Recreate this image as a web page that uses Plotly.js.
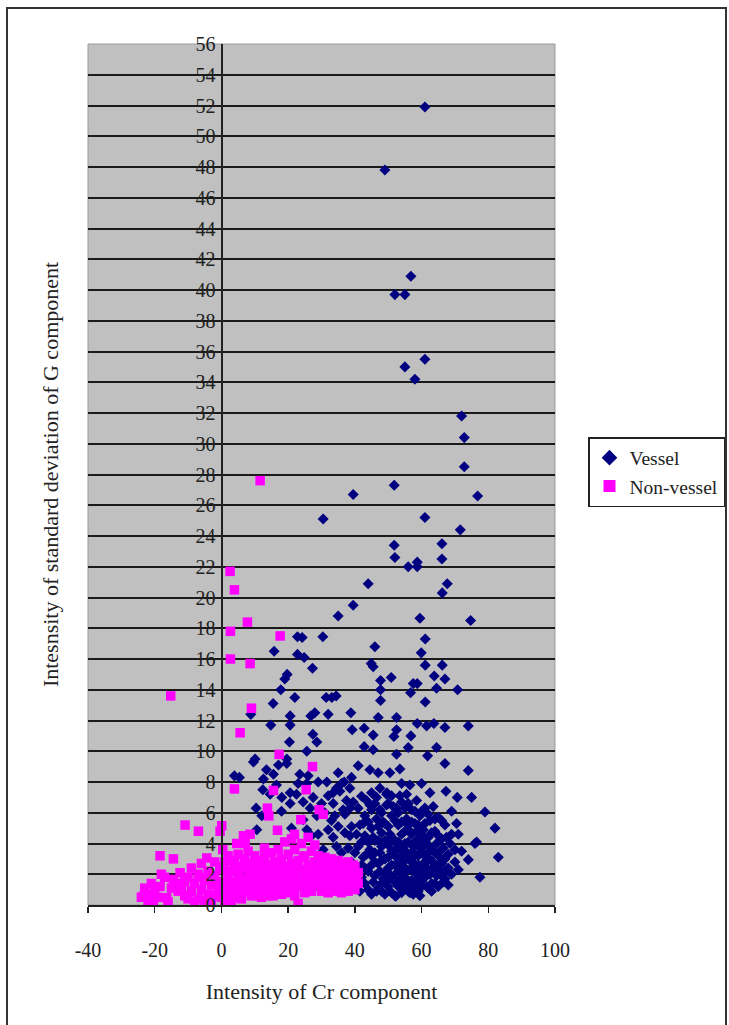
<!DOCTYPE html>
<html>
<head>
<meta charset="utf-8">
<script src="https://cdn.plot.ly/plotly-3.0.1.min.js"></script>
<style>
  html, body { margin: 0; padding: 0; background: #ffffff; }
  #chart { width: 729px; height: 1025px; }
  #frame { position: absolute; left: 6px; top: 7px; width: 721px; height: 1030px;
           border: 2px solid #333333; pointer-events: none; box-sizing: border-box; }
</style>
</head>
<body>
<div id="chart"></div>
<div id="frame"></div>
<script>
// Series: Vessel (x = intensity of Cr, y = std. dev. of G)
const vesselPoints = [
  [61,51.9],[49,47.8],[56.8,40.9],[52,39.7],[55,39.7],[61,35.5],[55,35],[58,34.2],
  [72,31.8],[72.8,30.4],[72.8,28.5],[76.8,26.6],[39.5,26.7],[51.8,27.3],[30.5,25.1],
  [61,25.2],[71.6,24.4],[66.1,23.5],[66.1,22.5],[51.8,23.4],[52,22.6],[58.7,22.3],
  [56,22],[58.7,22],[44,20.9],[67.7,20.9],[66.2,20.3],[39.5,19.5],[35,18.8],
  [59.5,18.65],[74.7,18.5],[30.4,17.45],[22.8,17.45],[24.2,17.4],[61.1,17.3],[46,16.8],
  [15.8,16.5],[22.8,16.3],[24.8,16.1],[59.9,16.4],[44.9,15.7],[45.5,15.5],[61.1,15.6],
  [66.2,15.6],[27.3,15.4],[19.7,15],[19,14.7],[47.7,14.6],[50.9,14.8],[63.8,14.9],
  [67,14.7],[57.5,14.4],[58.7,14.4],[17.8,14],[47.7,14],[56.7,13.8],[64.5,14.1],
  [70.8,14],[22,13.5],[31.4,13.5],[33.1,13.5],[34.4,13.6],[47.7,13.3],[61.1,13.2],
  [15.5,13.1],[8.8,12.4],[20.6,12.3],[26.8,12.3],[28,12.5],[32,12.4],[38.8,12.5],
  [47,12.2],[52.5,12.2],[14.8,11.7],[20.6,11.7],[58.7,11.8],[61.5,11.65],[63.7,11.8],
  [67,11.55],[74,11.65],[39.2,11.4],[42.8,11.5],[45.5,11.05],[52.5,11.4],[51.7,10.96],
  [56.8,11],[27.4,11.1],[28.6,10.6],[20.4,10.6],[42.8,10.3],[45.5,10.1],[56,10.25],
  [64.5,10.25],[25.6,10],[10.1,9.5],[19.6,9.5],[52.5,9.8],[61.8,9.7],[9.6,9.3],
  [17.1,9.1],[19.6,9.2],[41,9.06],[44.5,8.8],[47,8.6],[50.5,8.6],[53.5,8.85],[67,9.2],
  [74,8.75],[3.9,8.4],[5.4,8.3],[12.6,8.2],[15.6,8.5],[12.4,7.5],[14.6,7.2],[18.1,7],
  [20.6,7.3],[23,7.9],[25.6,7.9],[29,8],[31.6,8],[36.8,8],[42,7.07],[45,7.3],[47.5,7.6],
  [49.6,7.3],[54,7.9],[56.5,7.8],[60,7.9],[62.5,7.3],[67.3,7.4],[70.7,7],[75,7],
  [10.4,6.3],[12.1,5.8],[20.6,6.6],[24.5,6.7],[26.6,6.3],[30,6.6],[28.6,5.8],[31,6],
  [79,6.05],[10.6,4.9],[24.5,5.55],[25.6,4.9],[27,4.5],[30.5,3.6],[31.6,3],[82,5],
  [76,4],[76.5,4.1],[74,2.95],[83,3.1],[77.5,1.8],[67,1.7],[52.3,0.57],
  [33.5,7.3],[32,7.1],[35.5,7.4],[33.5,6.6],[36.5,6.2],[34,5.8],[39.5,6.7],[32,4.9],
  [33.5,4.4],[37,4.7],[39,5.1],[38.5,4.5],
  [21,5],[22.5,7.2],[27.5,7],[29,4.6],[33,5.5],[34.5,7.6],[37,5.9],[38.5,6.3],[18,6.1],
  [16.5,7.8],[23.5,8.5],[26,8.4],[13.5,8.8],[35,8.6],[39,8.3],
  [40,1.2],[40.5,2.5],[41,3.8],[41.5,5.2],[41,6.3],[42,1.8],[42.5,3.1],[43,4.5],[43,5.8],
  [43.5,6.8],[44,1.0],[44,2.2],[44.5,3.6],[45,5],[45,6.2],[45.5,1.5],[46,2.8],[46,4.2],
  [46.5,5.6],[46.5,7],[47,1.1],[47.5,2.2],[47.5,3.4],[48,4.7],[48,6],[48.5,1.7],[49,3],
  [49,5.3],[49.5,6.5],[50,1.2],[50,2.4],[50,3.9],[50.5,4.6],[51,5.8],[51,7.1],[51.5,1.8],
  [52,3.2],[52,4.2],[52.5,2.5],[52.5,6.3],[53,1.2],[53,5.2],[53.5,3.6],[54,2],[54,4.6],
  [54,6.7],[54.5,1.0],[55,2.9],[55,4],[55.5,5.6],[55.5,7.2],[56,1.5],[56,3.3],[56.5,2.3],
  [56.5,4.8],[57,6.2],[57,1.0],[57.5,3.8],[58,2.6],[58,5.3],[58.5,1.6],[58.5,6.8],[59,3.2],
  [59,4.3],[59.5,2.1],[59.5,5.8],[60,1.2],[60,3.7],[60.5,2.7],[60.5,4.9],[61,6.3],[61,1.8],
  [61.5,3.3],[62,4.4],[62,2.3],[62.5,5.5],[63,1.4],[63,3.6],[63.5,6.4],[64,2.6],[64,4.8],
  [64.5,1.9],[65,3.4],[65,5.7],[65.5,2.2],[66,4.3],[66.5,1.5],[67,3],[67,5.2],[68,2.4],
  [68.5,4],[69,6.1],[70,2.8],[71,4.6],[72,3.5],
  [42,2.6],[44,4.1],[47,5.1],[49,2.1],[51,3.5],[53,2.8],[55,1.8],[57,2.9],[59,1.4],
  [61,4.1],[63,2.9],[65,1.2],[48,0.9],[52,1.5],[56,5.2],[60,6.1],[46,1.9],[50,6.6],
  [54,3.1],[58,4.1],[62,1.1],[66,2.7],[45,3.2],[53,6],[57,4.6],[43,1.4],[41,2.1],
  [64,3.4],[56.5,0.8],[59,0.9],
  [40.5,4.6],[41.5,0.9],[42,4.1],[42.5,5.3],[43,2.4],[43.5,3.3],[44,5.4],[44.5,6.5],
  [45,0.7],[45,2.6],[45.5,4.4],[46,3.4],[46,6.6],[46.5,0.9],[47,2.7],[47,4.2],[47.5,6.2],
  [48,1.4],[48,2.9],[48,3.8],[48.5,5.4],[49,0.7],[49,4.2],[49.5,1.6],[49.5,7.2],[50,3.1],
  [50,5.1],[50.5,2],[51,0.8],[51,2.6],[51,4.4],[51.5,6.4],[52,0.6],[52,5.5],[52.5,3.7],
  [53,2.2],[53,4.1],[53.5,1.6],[53.5,7.1],[54,0.8],[54,5.4],[54.5,2.5],[54.5,3.7],[55,1.3],
  [55,4.8],[55,6.3],[55.5,2.3],[55.5,3.4],[56,0.9],[56,4.1],[56,6.6],[56.5,2.9],[57,1.6],
  [57,3.4],[57,5.4],[57.5,2.3],[57.5,0.7],[58,1.2],[58,3.3],[58,6.1],[58.5,4.8],[58.5,2],
  [59,2.6],[59,5.2],[59.5,3.7],[59.5,0.6],[60,2.2],[60,4.6],[60.5,1.7],[60.5,3.3],[61,2.7],
  [61,5.3],[61.5,1.2],[62,3],[62,5.9],[62.5,2],[62.5,3.8],[63,4.7],[63,0.9],[63.5,2.4],
  [64,1.4],[64,5.6],[64.5,4],[65,2.6],[65,4.5],[65.5,3.1],[66,1.9],[66,5.5],[66.5,3.7],
  [67,2.2],[67.5,4.4],[68,1.3],[68,3.3],[69,2],[69,4.6],[70,3.6],[70.5,5.3],[71,2.3],
  [36,3.4],[35,5.1],[37.5,6.8],[38,3.7],[39,2.8],[40,3.4],[38.5,7.6],[34.5,3.8],[36,7.9]
];

// Series: Non-vessel
const nonVesselPoints = [
  [11.6,27.6],[2.6,21.7],[3.9,20.5],[7.8,18.4],[2.7,17.8],[17.6,17.5],[2.7,16],[8.6,15.7],
  [-15.2,13.6],[9,12.8],[5.6,11.2],[17.3,9.8],[27.3,9],[3.9,7.55],[15.6,7.45],[25.4,7.5],
  [13.8,6.3],[14.2,5.8],[29.3,6.2],[30.5,5.9],[23.8,5.55],[-10.9,5.2],[-6.9,4.8],
  [0.1,5.16],[-0.4,4.8],[16.8,4.86],[21.9,4.6],[8.6,4.6],[7.1,4],[-18.4,3.2],[-14.4,3],
  [-4.4,3.06],[0.4,3.6],[12.9,3.7],[4.6,4],[6.6,4.5],[-23.4,0.57],[-20.4,0.14],
  [-16.4,0.47],[-18.4,1.2],[-14.4,1.66],[-12.4,2.1],
  [-12,1.2],[-11,0.6],[-10,1.8],[-9,0.9],[-9,2.4],[-8,1.4],[-7,0.4],[-7,2],[-6,1],
  [-6,2.7],[-5,1.6],[-4,0.7],[-4,2.2],[-3,1.3],[-3,0.3],[-2,1.9],[-2,2.8],[-1,0.9],
  [-1,1.5],[0,2.3],[0,0.5],[-8,0.2],[-5,0.3],[-10,0.4],[-13,0.9],[-15,1.1],[-17,1.8],
  [-20,0.9],[-21,1.4],[-19,0.5],[-22,0.3],[-16,0.2],[-24,0.5],[-23,1.1],
  [1,1.1],[1,2.8],[1,0.3],[2,1.7],[2,0.6],[2,3.2],[3,2.2],[3,1.0],[3,0.2],[4,1.5],[4,2.7],
  [4,0.5],[5,1.9],[5,3.3],[5,0.9],[6,1.2],[6,2.5],[6,0.4],[7,1.7],[7,3],[7,0.8],[8,2.1],
  [8,1.1],[8,3.5],[9,1.6],[9,0.6],[9,2.7],[10,1.3],[10,2.2],[10,3.2],[11,0.8],[11,1.8],
  [11,2.9],[12,1.4],[12,2.5],[12,0.5],[13,1.9],[13,3.1],[13,1.0],[14,1.5],[14,2.6],
  [14,0.6],[15,2],[15,3.4],[15,1.2],[16,1.6],[16,2.8],[16,0.8],[17,2.2],[17,3.6],[17,1.3],
  [18,1.8],[18,3],[18,0.7],[19,2.4],[19,4.1],[19,1.4],[20,1.9],[20,3.3],[20,0.9],[21,2.7],
  [21,4.3],[21,1.5],[22,2.1],[22,3.6],[22,0.6],[23,1.6],[23,2.9],[23,0.1],[24,2.3],[24,4],
  [24,1.2],[25,1.8],[25,3.2],[25,0.8],[26,2.6],[26,4.4],[26,1.4],[27,2],[27,3.5],[27,0.9],
  [28,1.6],[28,2.8],[28,3.9],[29,2.3],[29,1.2],[29,3.2],[30,1.8],[30,2.7],[30,0.9],
  [31,2.2],[31,3.1],[31,1.4],[32,1.7],[32,2.6],[32,0.8],[33,2.1],[33,3],[33,1.2],[34,1.6],
  [34,2.5],[34,0.9],[35,2],[35,2.9],[35,1.3],[36,1.7],[36,2.6],[36,0.8],[37,2.2],[37,1.1],
  [38,1.6],[38,2.8],[38,0.9],[39,2],[39,1.3],[40,1.7],[40,2.5],[40,1.0],[41,1.4],[41,2.1],
  [0.5,1.5],[1.5,2.2],[2.5,1.3],[3.5,2.9],[4.5,1.1],[5.5,2.4],[6.5,1.6],[7.5,2.5],
  [8.5,0.9],[9.5,1.9],[10.5,0.6],[11.5,2.4],[12.5,1.8],[13.5,2.4],[14.5,1.9],[15.5,0.6],
  [16.5,2.3],[17.5,1.0],[18.5,2.5],[19.5,0.8],[20.5,2.4],[21.5,0.9],[22.5,1.5],[23.5,2.3],
  [24.5,3.1],[25.5,1.3],[26.5,2.0],[27.5,1.3],[28.5,2.3],[29.5,1.7],[30.5,2.3],[31.5,1.0],
  [32.5,2.2],[33.5,1.6],[34.5,2.2],[35.5,1.7],[36.5,2.2],[37.5,1.6],[38.5,2.3],[39.5,1.6],
  [40.5,1.9],[39.5,2.6],[37.5,2.7],[-2.5,0.6],[-0.5,2.5],[-6.5,1.8],[-11,1.5],[-13.5,1.4],
  [-18,2.0],[-21.5,0.7]
];

const seriesNames = ['Vessel', 'Non-vessel'];
const xTickValues = [-40, -20, 0, 20, 40, 60, 80, 100];
const yTickValues = [0,2,4,6,8,10,12,14,16,18,20,22,24,26,28,30,32,34,36,38,40,42,44,46,48,50,52,54,56];
const xTitle = 'Intensity of Cr component';
const yTitle = 'Intesnsity of standard deviation of G component';

const serif = 'Liberation Serif, Times New Roman, serif';

const traces = [
  {
    type: 'scatter', mode: 'markers', name: seriesNames[0],
    x: vesselPoints.map(p => p[0]), y: vesselPoints.map(p => p[1]),
    xaxis: 'x', yaxis: 'y',
    marker: { symbol: 'diamond', size: 8.5, color: '#000080', line: { width: 0 } }
  },
  {
    type: 'scatter', mode: 'markers', name: seriesNames[1],
    x: nonVesselPoints.map(p => p[0]), y: nonVesselPoints.map(p => p[1]),
    xaxis: 'x', yaxis: 'y2',
    marker: { symbol: 'square', size: 9.5, color: '#FF00FF', line: { width: 0 } }
  }
];

const layout = {
  width: 729, height: 1025,
  margin: { l: 88, r: 174, t: 44, b: 120, autoexpand: false },
  paper_bgcolor: '#ffffff',
  plot_bgcolor: '#c0c0c0',
  showlegend: true,
  font: { family: serif, color: '#222222', size: 20 },
  xaxis: {
    range: [-40, 100], tickvals: xTickValues, ticktext: xTickValues.map(String),
    showgrid: false, zeroline: false,
    showline: true, linecolor: '#222222', linewidth: 1.5,
    ticks: 'outside', ticklen: 6, tickcolor: '#222222', tickwidth: 1.5,
    ticklabelstandoff: 20,
    tickfont: { family: serif, size: 20, color: '#222222' },
    title: { text: xTitle, font: { family: serif, size: 22, color: '#222222' }, standoff: 24 },
    automargin: false, fixedrange: true
  },
  yaxis: {
    range: [0, 56], tickvals: yTickValues,
    showgrid: true, gridcolor: '#1a1a1a', gridwidth: 2,
    zeroline: false, showline: false, showticklabels: false, ticks: '',
    title: { text: yTitle, font: { family: serif, size: 22, color: '#222222' }, standoff: 22 },
    automargin: false, fixedrange: true
  },
  yaxis2: {
    range: [0, 56], tickvals: yTickValues, ticktext: yTickValues.map(String),
    overlaying: 'y', anchor: 'free', position: 40 / 140, side: 'left',
    showgrid: false, zeroline: false,
    showline: true, linecolor: '#222222', linewidth: 1.5,
    ticks: '', ticklabelstandoff: 2,
    tickfont: { family: serif, size: 20, color: '#222222' },
    automargin: false, fixedrange: true
  },
  legend: {
    xref: 'container', yref: 'container',
    x: 588 / 729, y: 1 - 437 / 1025, xanchor: 'left', yanchor: 'top',
    bgcolor: '#ffffff', bordercolor: '#222222', borderwidth: 1.5,
    font: { family: serif, size: 19.5, color: '#222222' },
    itemsizing: 'constant', itemwidth: 30, tracegroupgap: 4
  },
  shapes: [
    { type: 'rect', xref: 'paper', yref: 'paper', x0: 0, x1: 1, y0: 0, y1: 1,
      line: { color: '#9a9a9a', width: 1 }, layer: 'below' }
  ]
};

Plotly.newPlot('chart', traces, layout, { displayModeBar: false, staticPlot: true });
</script>
</body>
</html>
